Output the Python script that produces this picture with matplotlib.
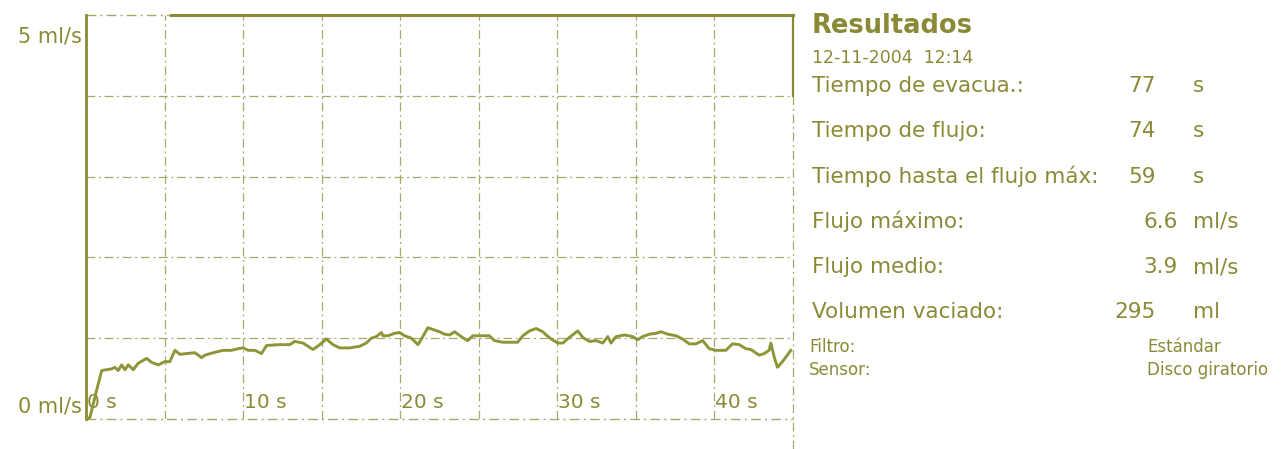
import numpy as np
import matplotlib
matplotlib.use("Agg")
import matplotlib.pyplot as plt

# flow curve (seconds, ml/s)
t = [0.1, 0.25, 0.68, 1.00, 1.63, 1.84, 2.05, 2.27, 2.48, 2.69, 3.01, 3.32, 3.86, 4.18, 4.60,
     5.02, 5.34, 5.66, 5.98, 6.40, 6.93, 7.36, 7.57, 8.09, 8.73, 9.26, 9.68, 10.00, 10.32,
     10.74, 11.17, 11.49, 12.33, 12.97, 13.29, 13.81, 14.45, 14.88, 15.30, 15.72, 16.15,
     16.78, 17.42, 17.84, 18.16, 18.48, 18.80, 18.90, 19.22, 19.64, 19.96, 20.28, 20.71,
     21.13, 21.44, 21.76, 22.19, 22.50, 22.82, 23.14, 23.46, 23.88, 24.30, 24.62, 25.05,
     25.68, 26.00, 26.53, 27.06, 27.48, 27.80, 28.23, 28.65, 29.07, 29.29, 29.61, 30.03,
     30.35, 30.77, 31.30, 31.62, 32.04, 32.47, 32.89, 33.21, 33.42, 33.74, 34.27, 34.79,
     35.11, 35.43, 35.86, 36.28, 36.60, 37.02, 37.55, 37.97, 38.40, 38.82, 39.25, 39.67,
     40.10, 40.73, 41.15, 41.58, 42.00, 42.32, 42.85, 43.17, 43.48, 43.59, 43.80, 44.01,
     44.33, 44.86]
flow = [0.0, 0.02, 0.36, 0.60, 0.62, 0.64, 0.60, 0.67, 0.61, 0.67, 0.61, 0.69, 0.75, 0.70, 0.67,
        0.71, 0.71, 0.85, 0.80, 0.81, 0.82, 0.76, 0.79, 0.82, 0.85, 0.85, 0.87, 0.88, 0.85,
        0.85, 0.81, 0.91, 0.92, 0.92, 0.96, 0.94, 0.86, 0.92, 0.99, 0.92, 0.88,
        0.88, 0.90, 0.94, 1.00, 1.02, 1.07, 1.03, 1.03, 1.06, 1.07, 1.03, 1.00,
        0.92, 1.02, 1.13, 1.10, 1.08, 1.05, 1.04, 1.08, 1.02, 0.97, 1.03, 1.03,
        1.03, 0.97, 0.95, 0.95, 0.95, 1.03, 1.09, 1.12, 1.08, 1.04, 0.99, 0.94,
        0.94, 1.01, 1.09, 1.01, 0.96, 0.97, 0.94, 1.02, 0.94, 1.02, 1.04, 1.02,
        0.98, 1.02, 1.05, 1.06, 1.08, 1.05, 1.03, 0.99, 0.93, 0.93, 0.97, 0.87,
        0.85, 0.85, 0.93, 0.92, 0.87, 0.86, 0.79, 0.81, 0.85, 0.94, 0.77, 0.64,
        0.71, 0.85]

x_ticks = [0, 10, 20, 30, 40]
x_grid = [5, 10, 15, 20, 25, 30, 35, 40]
y_grid = [1, 2, 3, 4]

title = "Resultados"
stamp = "12-11-2004  12:14"
row_labels = ["Tiempo de evacua.:", "Tiempo de flujo:", "Tiempo hasta el flujo máx:",
              "Flujo máximo:", "Flujo medio:", "Volumen vaciado:"]
row_values = ["77", "74", "59", "6.6", "3.9", "295"]
row_units = ["s", "s", "s", "ml/s", "ml/s", "ml"]
info_labels = ["Filtro:", "Sensor:"]
info_values = ["Estándar", "Disco giratorio"]

text_c = "#8a8a36"
line_c = "#8e9538"
grid_c = "#a9a86a"

W, H = 1288, 449
fig = plt.figure(figsize=(W / 100, H / 100), dpi=100)
ax = fig.add_axes([86 / W, 1 - 419 / H, 707 / W, 404 / H])
ax.set_xlim(0, 45)
ax.set_ylim(0, 5)
for s in ax.spines.values():
    s.set_visible(False)
ax.set_xticks([])
ax.set_yticks([])

dashdot = (0, (7, 3, 1.5, 3))
for g in x_grid:
    ax.axvline(g, color=grid_c, lw=0.9, ls=dashdot, zorder=1)
for g in y_grid:
    ax.axhline(g, color=grid_c, lw=0.9, ls=dashdot, zorder=1)

# frame: solid on left/top, broken elsewhere
ax.axvline(0, color=text_c, lw=2.0, clip_on=False, zorder=3)
ax.axhline(5, xmin=0, xmax=0.12, color=grid_c, lw=1.0, ls=dashdot, clip_on=False)
ax.axhline(5, xmin=0.12, xmax=1, color=text_c, lw=2.2, clip_on=False)
ax.axvline(45, ymin=0.8, ymax=1, color=text_c, lw=1.6, clip_on=False)
ax.axvline(45, ymin=-0.075, ymax=0.8, color=grid_c, lw=0.9, ls=dashdot, clip_on=False)
ax.axhline(0, color=grid_c, lw=1.0, ls=dashdot, clip_on=False)

ax.plot(t, flow, color=line_c, lw=2.1, zorder=4, clip_on=False)

for v in x_ticks:
    ax.text(v + 0.05, 0.2, f"{v} s", ha="left", va="center", fontsize=14.5, color=text_c)

ax.text(-0.006, 1 - 12 / 404, "5 ml/s", transform=ax.transAxes, ha="right", va="top",
        fontsize=15, color=text_c)
ax.text(-0.006, 2 / 404, "0 ml/s", transform=ax.transAxes, ha="right", va="bottom",
        fontsize=15, color=text_c)


def put(x, y, s, **kw):
    fig.text(x / W, 1 - y / H, s, color=text_c, va="baseline", **kw)


put(812, 33, title, fontsize=18.5, fontweight="bold")
put(812, 63, stamp, fontsize=12.5)
for i, (lab, val, unit) in enumerate(zip(row_labels, row_values, row_units)):
    y = 92 + i * 45.3
    put(812, y, lab, fontsize=15.5)
    right = 1178 if "." in val else 1156
    put(right, y, val, fontsize=15.5, ha="right")
    put(1193, y, unit, fontsize=15.5)
for i, (lab, val) in enumerate(zip(info_labels, info_values)):
    y = 352 + i * 23
    put(809, y, lab, fontsize=12)
    put(1147, y, val, fontsize=12)

fig.savefig("out.png", dpi=100)
